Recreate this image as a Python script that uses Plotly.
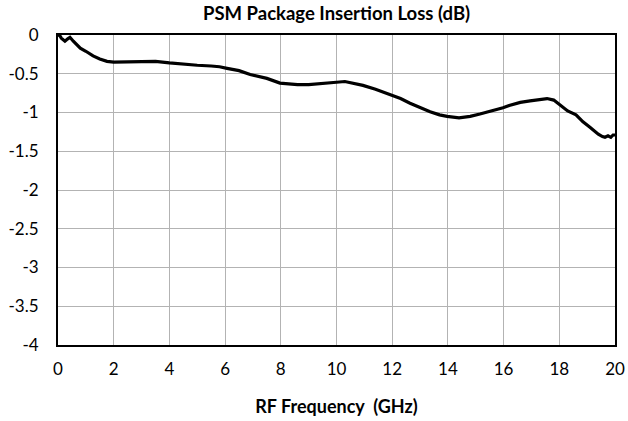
import plotly.graph_objects as go

freq_ghz = [0.0, 0.05, 0.12, 0.25, 0.35, 0.43, 0.55, 0.8, 1.0, 1.26, 1.5, 1.76, 2.0, 2.5, 3.0, 3.5, 4.0, 4.5, 5.0,
            5.5, 5.8, 6.07, 6.5, 6.9, 7.5, 7.97, 8.33, 8.6, 9.0, 9.5, 10.0, 10.3, 10.6, 10.95, 11.4, 11.9, 12.3,
            12.64, 13.0, 13.36, 13.7, 13.97, 14.4, 14.8, 15.15, 15.6, 15.98, 16.2, 16.6, 16.95, 17.3, 17.56,
            17.8, 18.0, 18.15, 18.3, 18.6, 18.85, 19.1, 19.4, 19.55, 19.64, 19.75, 19.85, 19.93, 20.0]
loss_db = [-0.02, 0.0, -0.04, -0.08, -0.05, -0.03, -0.08, -0.17, -0.21, -0.27, -0.31, -0.34, -0.35, -0.35,
           -0.34, -0.34, -0.36, -0.38, -0.39, -0.40, -0.41, -0.43, -0.46, -0.51, -0.56, -0.62, -0.63, -0.64,
           -0.64, -0.63, -0.61, -0.60, -0.62, -0.65, -0.70, -0.77, -0.82, -0.88, -0.94, -0.99, -1.03, -1.05,
           -1.07, -1.05, -1.02, -0.98, -0.94, -0.91, -0.87, -0.85, -0.83, -0.82, -0.84, -0.90, -0.94, -0.98,
           -1.03, -1.12, -1.19, -1.28, -1.31, -1.32, -1.30, -1.32, -1.29, -1.29]

x_ticks = [0, 2, 4, 6, 8, 10, 12, 14, 16, 18, 20]
y_ticks = [0, -0.5, -1, -1.5, -2, -2.5, -3, -3.5, -4]
y_tick_labels = ["0", "-0.5", "-1", "-1.5", "-2", "-2.5", "-3", "-3.5", "-4"]

font_family = "Lato, 'Open Sans', sans-serif"

fig = go.Figure()
fig.add_trace(go.Scatter(x=freq_ghz, y=loss_db, mode="lines",
                         line=dict(color="black", width=3.2), showlegend=False))

fig.update_layout(
    width=628, height=421,
    margin=dict(l=58, r=13, t=35, b=76),
    paper_bgcolor="white", plot_bgcolor="white",
    font=dict(family=font_family, color="black", size=17),
    title=dict(text="<b>PSM Package Insertion Loss (dB)</b>", x=0.536, xref="container", xanchor="center",
               y=0.968, yref="container", yanchor="middle", font=dict(size=18.5)),
)
fig.update_xaxes(range=[0, 20], tickvals=x_ticks, showgrid=True, gridcolor="#b3b3b3", gridwidth=1,
                 showline=True, linecolor="black", linewidth=2, mirror=True, ticks="",
                 ticklabelstandoff=8, zeroline=False, automargin=False,
                 title=dict(text="<b>RF Frequency \u00a0(GHz)</b>", font=dict(size=18), standoff=22))
fig.update_yaxes(range=[-4, 0], tickvals=y_ticks, ticktext=y_tick_labels, showgrid=True,
                 gridcolor="#b3b3b3", gridwidth=1, showline=True, linecolor="black", linewidth=2,
                 mirror=True, ticks="", ticklabelstandoff=14, zeroline=False, automargin=False)

fig.write_html("out.html", config={"displayModeBar": False},
               post_script="document.body.style.margin='0';document.body.style.overflow='hidden';")
